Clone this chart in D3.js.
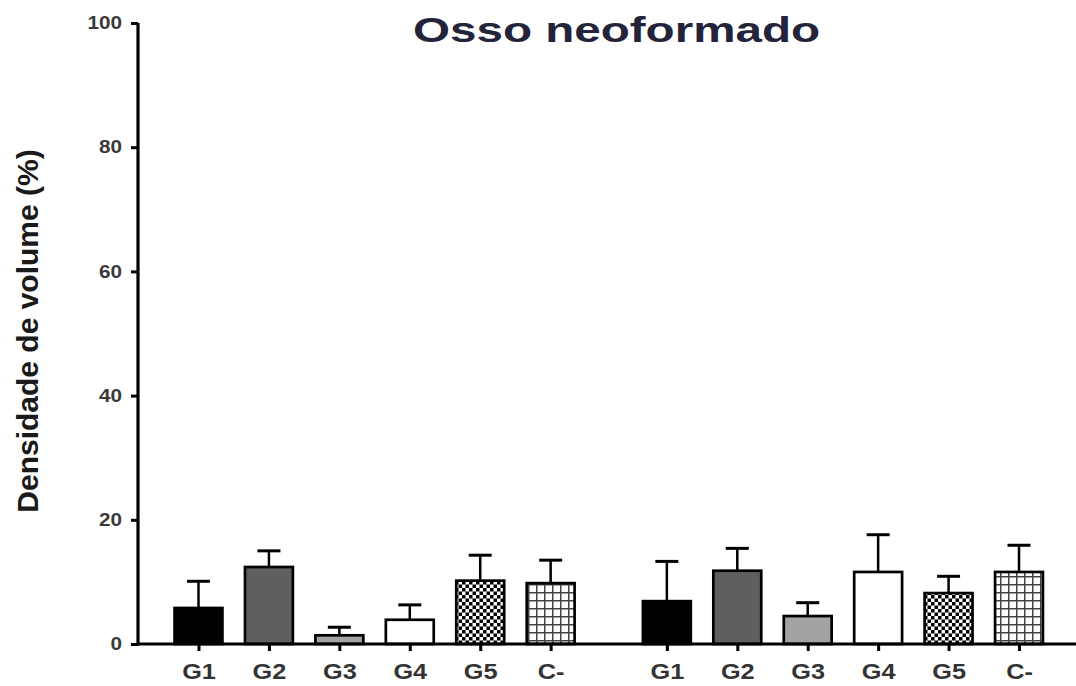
<!DOCTYPE html>
<html>
<head>
<meta charset="utf-8">
<script src="https://cdn.jsdelivr.net/npm/d3@7"></script>
<style>
  html, body { margin: 0; padding: 0; background: #fff; }
  svg { display: block; }
</style>
</head>
<body>
<svg id="chart" width="1076" height="686"></svg>
<script>
const categories = ["G1", "G2", "G3", "G4", "G5", "C-"];
const group1Means = [5.8, 12.4, 1.4, 3.9, 10.2, 9.8];
const group1Err   = [4.3, 2.6, 1.3, 2.4, 4.1, 3.7];
const group2Means = [6.9, 11.8, 4.5, 11.6, 8.2, 11.6];
const group2Err   = [6.4, 3.6, 2.15, 6.0, 2.7, 4.3];
const yTicks = [0, 20, 40, 60, 80, 100];
const titleText = "Osso neoformado";
const yLabelText = "Densidade de volume (%)";

const fills = ["#000000", "#5f5f5f", "#a3a3a3", "#ffffff", "url(#checker)", "url(#grid)"];

const svg = d3.select("#chart");
const defs = svg.append("defs");

const checker = defs.append("pattern").attr("id", "checker")
  .attr("patternUnits", "userSpaceOnUse").attr("width", 7).attr("height", 7);
checker.append("rect").attr("width", 7).attr("height", 7).attr("fill", "#fff");
checker.append("rect").attr("x", 0).attr("y", 0).attr("width", 3.5).attr("height", 3.5).attr("fill", "#000");
checker.append("rect").attr("x", 3.5).attr("y", 3.5).attr("width", 3.5).attr("height", 3.5).attr("fill", "#000");

const grid = defs.append("pattern").attr("id", "grid")
  .attr("patternUnits", "userSpaceOnUse").attr("width", 8).attr("height", 8);
grid.append("rect").attr("width", 8).attr("height", 8).attr("fill", "#fff");
grid.append("line").attr("x1", 0.75).attr("x2", 0.75).attr("y1", 0).attr("y2", 8)
  .attr("stroke", "#444").attr("stroke-width", 1.5);
grid.append("line").attr("x1", 0).attr("x2", 8).attr("y1", 0.75).attr("y2", 0.75)
  .attr("stroke", "#444").attr("stroke-width", 1.5);

// data rows: slot index (group 2 shifted by a gap)
const rows = [];
categories.forEach((c, i) => rows.push({cat: c, slot: i, mean: group1Means[i], err: group1Err[i], fill: fills[i]}));
categories.forEach((c, i) => rows.push({cat: c, slot: i + 6.65, mean: group2Means[i], err: group2Err[i], fill: fills[i]}));

const x = d3.scaleLinear().domain([0, 11.65]).range([198.5, 1019]);
const y = d3.scaleLinear().domain([0, 100]).range([644, 23]);
const bw = (x(1) - x(0)) * 0.68;

// bars
svg.append("g").selectAll("rect").data(rows).join("rect")
  .attr("x", d => x(d.slot) - bw / 2)
  .attr("y", d => y(d.mean))
  .attr("width", bw)
  .attr("height", d => y(0) - y(d.mean))
  .attr("fill", d => d.fill)
  .attr("stroke", "#000")
  .attr("stroke-width", 2.7);

// error bars
const eb = svg.append("g");
eb.selectAll("line.v").data(rows).join("line").attr("class", "v")
  .attr("x1", d => x(d.slot)).attr("x2", d => x(d.slot))
  .attr("y1", d => y(d.mean)).attr("y2", d => y(d.mean + d.err))
  .attr("stroke", "#000").attr("stroke-width", 2.5);
eb.selectAll("line.c").data(rows).join("line").attr("class", "c")
  .attr("x1", d => x(d.slot) - 11.5).attr("x2", d => x(d.slot) + 11.5)
  .attr("y1", d => y(d.mean + d.err)).attr("y2", d => y(d.mean + d.err))
  .attr("stroke", "#000").attr("stroke-width", 3);

// y axis
const yAxis = svg.append("g").attr("transform", "translate(138,0)")
  .call(d3.axisLeft(y).tickValues(yTicks).tickSize(7).tickPadding(7));
yAxis.select(".domain").attr("stroke", "#000").attr("stroke-width", 3.2)
  .attr("d", `M0,${y(100)}V${y(0) + 1.5}`);
yAxis.selectAll(".tick line").attr("stroke", "#000").attr("stroke-width", 3);
yAxis.selectAll(".tick text")
  .attr("font-family", "Liberation Sans, Arial, sans-serif")
  .attr("font-weight", "bold").attr("font-size", 18).attr("fill", "#3a3a3a")
  .attr("transform", "scale(1.15,1)");

// x axis
const xAxis = svg.append("g").attr("transform", `translate(0,${y(0)})`)
  .call(d3.axisBottom(x).tickValues(rows.map(d => d.slot))
    .tickFormat((d, i) => rows[i].cat).tickSize(7).tickPadding(12));
xAxis.select(".domain").attr("stroke", "#000").attr("stroke-width", 3.2)
  .attr("d", "M137,0H1076");
xAxis.selectAll(".tick line").attr("stroke", "#000").attr("stroke-width", 3);
xAxis.selectAll(".tick text")
  .attr("font-family", "Liberation Sans, Arial, sans-serif")
  .attr("font-weight", "bold").attr("font-size", 22).attr("fill", "#333")
  .attr("transform", "scale(1.15,1)");

// title
svg.append("text")
  .attr("x", 413).attr("y", 42)
  .attr("font-family", "Liberation Sans, Arial, sans-serif")
  .attr("font-weight", "bold").attr("font-size", 35)
  .attr("fill", "#23233a")
  .attr("textLength", 407).attr("lengthAdjust", "spacingAndGlyphs")
  .text(titleText);

// y label
svg.append("text")
  .attr("transform", "translate(38,331) rotate(-90)")
  .attr("text-anchor", "middle")
  .attr("font-family", "Liberation Sans, Arial, sans-serif")
  .attr("font-weight", "bold").attr("font-size", 30)
  .attr("fill", "#1a1a1a")
  .text(yLabelText);
</script>
</body>
</html>
